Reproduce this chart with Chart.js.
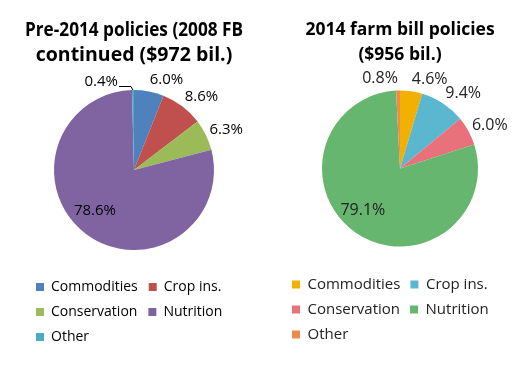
<!DOCTYPE html>
<html>
<head>
<meta charset="utf-8">
<script src="https://cdn.jsdelivr.net/npm/chart.js@4.4.1/dist/chart.umd.min.js"></script>
<style>
  html, body { margin: 0; padding: 0; background: #fff; }
  #wrap { position: relative; width: 530px; height: 367px; }
  .box { position: absolute; top: 0; width: 265px; height: 367px; }
</style>
</head>
<body>
<div id="wrap">
  <div class="box" style="left:0"><canvas id="c1" width="265" height="367"></canvas></div>
  <div class="box" style="left:265px"><canvas id="c2" width="265" height="367"></canvas></div>
</div>
<script>
// ---- data ----
const categories = ['Commodities', 'Crop ins.', 'Conservation', 'Nutrition', 'Other'];
const pre2014Values = [6.0, 8.6, 6.3, 78.6, 0.4];
const fb2014Values = [4.6, 9.4, 6.0, 79.1, 0.8];
const pre2014Title = ['Pre-2014 policies (2008 FB', 'continued ($972 bil.)'];
const fb2014Title = ['2014 farm bill policies', '($956 bil.)'];
const pre2014Colors = ['#4F81BD', '#C0504D', '#9BBB59', '#8064A2', '#4BACC6'];
const fb2014Colors = ['#F2B000', '#5BB6CF', '#E9717C', '#67B66F', '#EE8A4C'];
const pre2014LabelModes = ['out', 'out', 'out', 'in', 'lead'];
const fb2014LabelModes = ['out', 'out', 'out', 'in', 'out'];

const FONT = "'Open Sans', 'DejaVu Sans', sans-serif";

const sliceLabels = {
  id: 'sliceLabels',
  afterDatasetsDraw(chart, args, opts) {
    const ctx = chart.ctx;
    const meta = chart.getDatasetMeta(0);
    const data = chart.data.datasets[0].data;
    ctx.save();
    ctx.font = opts.size + 'px ' + FONT;
    ctx.fillStyle = opts.color;
    ctx.textAlign = 'center';
    ctx.textBaseline = 'middle';
    meta.data.forEach((arc, i) => {
      const p = arc.getProps(['x', 'y', 'startAngle', 'endAngle', 'outerRadius'], true);
      const mid = (p.startAngle + p.endAngle) / 2;
      const c = Math.cos(mid), s = Math.sin(mid);
      const txt = data[i].toFixed(1) + '%';
      const w = ctx.measureText(txt).width;
      const h = opts.size;
      const mode = opts.modes[i];
      let cx, cy;
      if (mode === 'in') {
        const r = p.outerRadius * 0.55;
        cx = p.x + c * r + c * w / 2;
        cy = p.y + s * r + s * h / 2;
      } else if (mode === 'lead') {
        const ex = p.x + c * p.outerRadius, ey = p.y + s * p.outerRadius;
        cx = p.x - 16 - w / 2;
        cy = ey - 8;
        ctx.beginPath();
        ctx.strokeStyle = '#000';
        ctx.lineWidth = 1;
        ctx.moveTo(cx + w / 2 + 1, cy + 4.5);
        ctx.lineTo(ex - 2, cy + 4.5);
        ctx.lineTo(ex, ey);
        ctx.stroke();
      } else {
        const r = p.outerRadius + opts.gap;
        const ax = p.x + c * r, ay = p.y + s * r;
        cx = ax + Math.sign(c) * w / 2;
        cy = ay + s * h / 2;
      }
      ctx.fillText(txt, cx, cy);
    });
    ctx.restore();
  }
};

function makePie(id, values, colors, title, modes, cfg) {
  return new Chart(document.getElementById(id), {
    type: 'pie',
    data: {
      labels: categories,
      datasets: [{ data: values, backgroundColor: colors, borderWidth: 0 }]
    },
    options: {
      responsive: false,
      devicePixelRatio: 1,
      animation: false,
      radius: cfg.radius,
      layout: { padding: cfg.layoutPadding },
      plugins: {
        title: {
          display: true,
          text: title,
          color: '#000',
          font: { family: FONT, size: cfg.titleSize, weight: 'bold', lineHeight: 25 / cfg.titleSize },
          padding: cfg.titlePadding
        },
        legend: {
          position: 'bottom',
          align: 'start',
          labels: {
            boxWidth: 8,
            boxHeight: 8,
            padding: cfg.legendPadding,
            color: cfg.textColor,
            font: { family: FONT, size: cfg.legendSize }
          }
        },
        tooltip: { enabled: false },
        sliceLabels: { size: cfg.labelSize, color: cfg.textColor, modes: modes, gap: 4 }
      }
    },
    plugins: [sliceLabels]
  });
}

makePie('c1', pre2014Values, pre2014Colors, pre2014Title, pre2014LabelModes, {
  radius: 80,
  layoutPadding: { left: 25, right: 22, top: 0, bottom: 13 },
  titleSize: 19.5,
  titlePadding: { top: 17.5, bottom: 3.5 },
  legendPadding: 11,
  legendSize: 14,
  labelSize: 15,
  textColor: '#000'
});

makePie('c2', fb2014Values, fb2014Colors, fb2014Title, fb2014LabelModes, {
  radius: 78,
  layoutPadding: { left: 17, right: 12, top: 0, bottom: 15 },
  titleSize: 17.5,
  titlePadding: { top: 17.5, bottom: 2.5 },
  legendPadding: 10,
  legendSize: 15,
  labelSize: 16,
  textColor: '#222'
});
</script>
</body>
</html>
